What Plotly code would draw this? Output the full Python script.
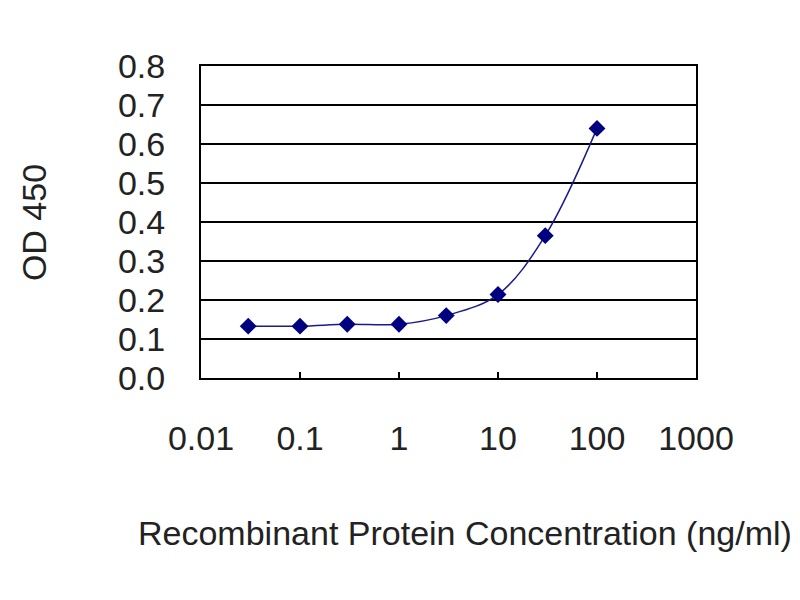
import plotly.graph_objects as go

# 濃度 (ng/ml) と OD450
conc = [0.03, 0.1, 0.3, 1, 3, 10, 30, 100]
od450 = [0.133, 0.133, 0.138, 0.138, 0.16, 0.214, 0.365, 0.64]

x_tickvals = [0.01, 0.1, 1, 10, 100, 1000]
x_ticktext = ["0.01", "0.1", "1", "10", "100", "1000"]
y_tickvals = [0, 0.1, 0.2, 0.3, 0.4, 0.5, 0.6, 0.7, 0.8]
y_ticktext = ["0.0", "0.1", "0.2", "0.3", "0.4", "0.5", "0.6", "0.7", "0.8"]

font_name = "Liberation Sans, Arial"

fig = go.Figure(
    data = go.Scatter(
        x = conc,
        y = od450,
        mode = "lines+markers",
        line = dict(color = "#1a1a8c", width = 1.5, shape = "spline"),
        marker = dict(symbol = "diamond", size = 13, color = "#000080"),
    ),
    layout = go.Layout(
        width = 800,
        height = 600,
        margin = dict(l = 193, r = 112, t = 58, b = 230),
        paper_bgcolor = "white",
        plot_bgcolor = "white",
        showlegend = False,
        font = dict(family = font_name, color = "#222222"),
        xaxis = dict(
            type = "log",
            range = [-2, 3],
            tickvals = x_tickvals,
            ticktext = x_ticktext,
            tickfont = dict(size = 34),
            ticks = "inside",
            ticklen = 6,
            tickcolor = "black",
            tickwidth = 2,
            ticklabelstandoff = 29,
            showgrid = False,
            showline = True,
            linecolor = "black",
            linewidth = 2,
            mirror = True,
            zeroline = False,
            automargin = False,
        ),
        yaxis = dict(
            range = [0, 0.8],
            tickvals = y_tickvals,
            ticktext = y_ticktext,
            tickfont = dict(size = 34),
            ticks = "",
            ticklabelstandoff = 27,
            showgrid = True,
            gridcolor = "black",
            gridwidth = 2,
            showline = True,
            linecolor = "black",
            linewidth = 2,
            mirror = True,
            zeroline = False,
            automargin = False,
        ),
        annotations = [
            dict(
                text = "Recombinant Protein Concentration (ng/ml)",
                xref = "paper", yref = "paper",
                x = 0.533, y = -0.497,
                xanchor = "center", yanchor = "middle",
                showarrow = False,
                font = dict(size = 34, color = "#222222"),
            ),
            dict(
                text = "OD 450",
                xref = "paper", yref = "paper",
                x = -0.337, y = 0.497,
                xanchor = "center", yanchor = "middle",
                textangle = -90,
                showarrow = False,
                font = dict(size = 34, color = "#222222"),
            ),
        ],
    )
)
fig.write_html("out.html")
